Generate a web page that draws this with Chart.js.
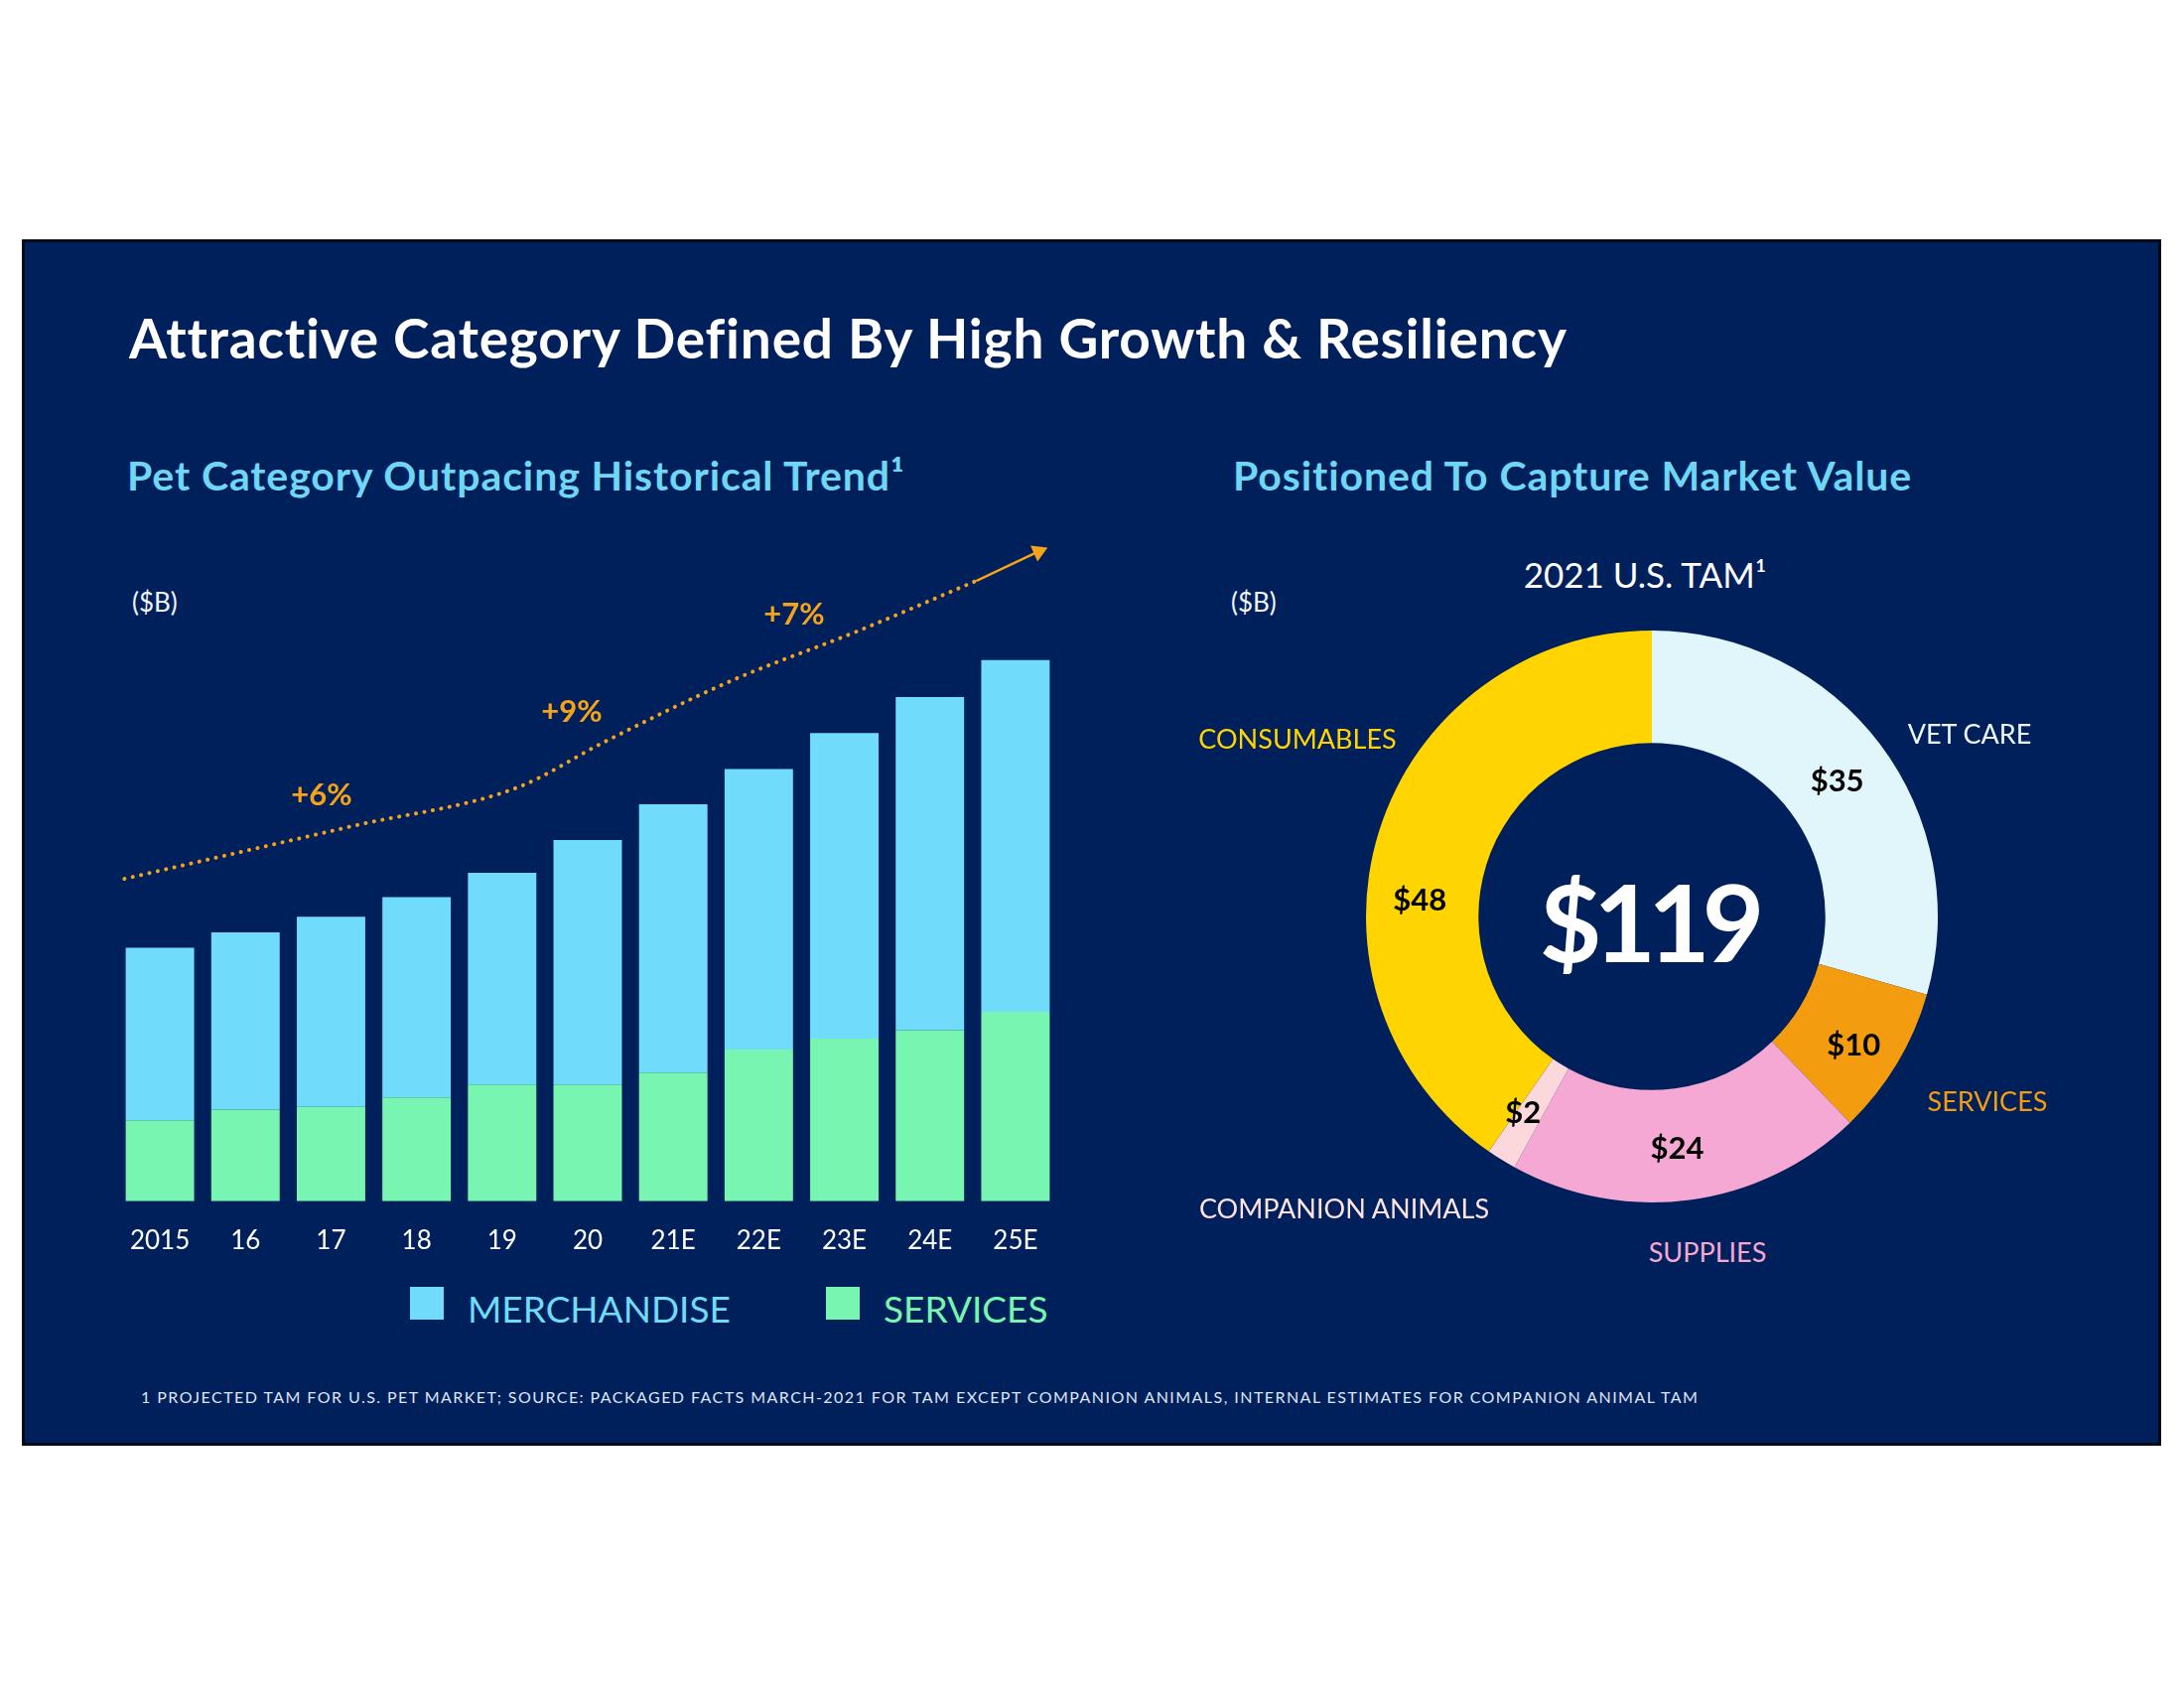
<!DOCTYPE html>
<html>
<head>
<meta charset="utf-8">
<script src="https://cdn.jsdelivr.net/npm/chart.js@4.4.1/dist/chart.umd.min.js"></script>
<style>
  html, body { margin: 0; padding: 0; background: #fff; }
  #page { position: relative; width: 2200px; height: 1700px; background: #fff; font-family: Lato, "Open Sans", sans-serif; overflow: hidden; }
  #panel { position: absolute; left: 22px; top: 241px; width: 2155px; height: 1215px; box-sizing: border-box; background: #00205b; border: 3px solid #050a18; }
  .t { position: absolute; white-space: nowrap; line-height: 1; transform: translateY(-50%); }
  .c { transform: translate(-50%, -50%); }
  .title { left: 130px; top: 340px; font-size: 55px; font-weight: 700; color: #fff; letter-spacing: 0.8px; }
  .sub { top: 478px; font-size: 41px; font-weight: 700; color: #6fd6f6; letter-spacing: 0.9px; }
  .unit { top: 606px; font-size: 26px; color: #f2f5fb; font-weight: 400; }
  .pct { font-size: 31px; font-weight: 700; color: #f5a31a; }
  .tam { left: 1657px; top: 578px; font-size: 35px; color: #fff; font-weight: 400; }
  .big { left: 1660px; top: 927px; font-size: 108px; font-weight: 700; color: #fff; letter-spacing: -8px; }
  .cat { font-size: 27px; font-weight: 400; }
  .legend-box { position: absolute; width: 34px; height: 33px; }
  .legend-text { font-size: 37px; font-weight: 400; }
  .foot { left: 142px; top: 1407px; font-size: 16px; color: #dfe5f3; letter-spacing: 1.45px; }
  canvas { position: absolute; }
</style>
</head>
<body>
<div id="page">
  <div id="panel"></div>

  <div class="t title">Attractive Category Defined By High Growth &amp; Resiliency</div>
  <div class="t sub" style="left:128px">Pet Category Outpacing Historical Trend¹</div>
  <div class="t sub" style="left:1242px">Positioned To Capture Market Value</div>

  <div class="t unit" style="left:133px">($B)</div>
  <div class="t unit" style="left:1240px">($B)</div>

  <canvas id="bars" width="948" height="751" style="left:118px;top:538px"></canvas>
  <canvas id="trend" width="948" height="672" style="left:118px;top:538px"></canvas>
  <canvas id="tamChart" width="600" height="600" style="left:1364px;top:623px"></canvas>

  <div class="t c pct" style="left:324px;top:799px">+6%</div>
  <div class="t c pct" style="left:576px;top:715px">+9%</div>
  <div class="t c pct" style="left:800px;top:617px">+7%</div>

  <div class="t c tam">2021 U.S. TAM¹</div>

  <div class="t c big">$119</div>

  <div class="t c cat" style="left:1307px;top:743px;color:#ffd400">CONSUMABLES</div>
  <div class="t c cat" style="left:1984px;top:738px;color:#eef8fc">VET CARE</div>
  <div class="t c cat" style="left:2002px;top:1108px;color:#f39c0f">SERVICES</div>
  <div class="t c cat" style="left:1354px;top:1216px;color:#fde3e6">COMPANION ANIMALS</div>
  <div class="t c cat" style="left:1720px;top:1260px;color:#f5a8d3">SUPPLIES</div>

  <div id="legend"></div>

  <div class="t foot">1 PROJECTED TAM FOR U.S. PET MARKET; SOURCE: PACKAGED FACTS MARCH-2021 FOR TAM EXCEPT COMPANION ANIMALS, INTERNAL ESTIMATES FOR COMPANION ANIMAL TAM</div>
</div>

<script>
// pet market, $B
const years = ['2015', '16', '17', '18', '19', '20', '21E', '22E', '23E', '24E', '25E'];
const merchandise = [51.7, 53.1, 57.0, 60.1, 63.5, 73.3, 80.4, 84.1, 91.6, 99.9, 105.5];
const services = [24.3, 27.5, 28.3, 31.1, 35.0, 35.0, 38.6, 45.5, 48.8, 51.3, 56.8];

// dotted trend line, x in category index units
const trendX = [-0.415, 2.25, 4.17, 5.2, 6.69, 8.17, 9.54];
const trendY = [96.7, 112.5, 124.0, 137.8, 156.2, 171.1, 186.0];
const arrowX = [9.54, 10.27];
const arrowY = [186.0, 194.8];

// 2021 U.S. TAM, $B
const tamLabels = ['VET CARE', 'SERVICES', 'SUPPLIES', 'COMPANION ANIMALS', 'CONSUMABLES'];
const tamValues = [35, 10, 24, 2, 48];

const merchColor = '#70dbfa';
const servColor = '#78f5b1';
const orange = '#f5a31a';
const tamColors = ['#e1f6fb', '#f39c0f', '#f5a8d3', '#fcd8dc', '#ffd400'];
const yMax = 200;

// legend under the bars
const legendItems = [
  { text: 'MERCHANDISE', color: merchColor, left: 413 },
  { text: 'SERVICES', color: servColor, left: 832 }
];
const legendEl = document.getElementById('legend');
legendItems.forEach(item => {
  const box = document.createElement('div');
  box.className = 'legend-box';
  box.style.left = item.left + 'px';
  box.style.top = '1296px';
  box.style.background = item.color;
  legendEl.appendChild(box);
  const txt = document.createElement('div');
  txt.className = 't legend-text';
  txt.style.left = (item.left + 58) + 'px';
  txt.style.top = '1317px';
  txt.style.color = item.color;
  txt.textContent = item.text;
  legendEl.appendChild(txt);
});

new Chart(document.getElementById('bars'), {
  type: 'bar',
  data: {
    labels: years,
    datasets: [
      { label: 'SERVICES', data: services, backgroundColor: servColor },
      { label: 'MERCHANDISE', data: merchandise, backgroundColor: merchColor }
    ]
  },
  options: {
    responsive: false,
    animation: false,
    layout: { padding: 0, autoPadding: false },
    barPercentage: 0.8,
    categoryPercentage: 1.0,
    borderWidth: 0,
    scales: {
      x: {
        stacked: true,
        grid: { display: false, drawTicks: false },
        border: { display: false },
        ticks: { color: '#ffffff', font: { family: 'Lato', size: 26 }, padding: 24 },
        // keep the plot area full width, labels fit under the bars anyway
        afterFit(scale) { scale.paddingLeft = 0; scale.paddingRight = 0; }
      },
      y: { stacked: true, display: false, min: 0, max: yMax }
    },
    plugins: { legend: { display: false }, tooltip: { enabled: false } }
  }
});

// trend overlay, same plot area as the bars
new Chart(document.getElementById('trend'), {
  type: 'line',
  data: {
    datasets: [
      {
        label: 'trend',
        data: trendX.map((x, i) => ({ x: x, y: trendY[i] })),
        borderColor: orange, borderWidth: 4, borderDash: [0.1, 8.5], borderCapStyle: 'round',
        pointRadius: 0, cubicInterpolationMode: 'monotone', clip: false
      },
      {
        label: 'arrow',
        data: arrowX.map((x, i) => ({ x: x, y: arrowY[i] })),
        borderColor: orange, borderWidth: 2.5,
        pointRadius: [0, 10], pointStyle: 'triangle', rotation: 66,
        pointBackgroundColor: orange, pointBorderWidth: 0, clip: false
      }
    ]
  },
  options: {
    responsive: false,
    animation: false,
    layout: { padding: 0, autoPadding: false },
    scales: {
      x: { type: 'linear', display: false, min: -0.5, max: years.length - 0.5 },
      y: { display: false, min: 0, max: yMax }
    },
    plugins: { legend: { display: false }, tooltip: { enabled: false } }
  }
});

const sliceValues = {
  id: 'sliceValues',
  afterDatasetsDraw(chart, args, opts) {
    const ctx = chart.ctx;
    const meta = chart.getDatasetMeta(0);
    ctx.save();
    ctx.font = 'bold 31px Lato';
    ctx.fillStyle = '#000';
    ctx.textAlign = 'center';
    ctx.textBaseline = 'middle';
    meta.data.forEach((arc, i) => {
      const p = arc.tooltipPosition();
      const n = opts.nudge[i] || [0, 0];
      ctx.fillText('$' + chart.data.datasets[0].data[i], p.x + n[0], p.y + n[1]);
    });
    ctx.restore();
  }
};

new Chart(document.getElementById('tamChart'), {
  type: 'doughnut',
  data: {
    labels: tamLabels,
    datasets: [{ data: tamValues, backgroundColor: tamColors, borderWidth: 0, hoverOffset: 0 }]
  },
  options: {
    responsive: false,
    animation: false,
    radius: 288,
    cutout: 182,
    plugins: {
      legend: { display: false },
      tooltip: { enabled: false },
      sliceValues: { nudge: [[2, 3], [5, 11], [-5, 5], [-8, 1], [-13, 53]] }
    }
  },
  plugins: [sliceValues]
});
</script>
</body>
</html>
